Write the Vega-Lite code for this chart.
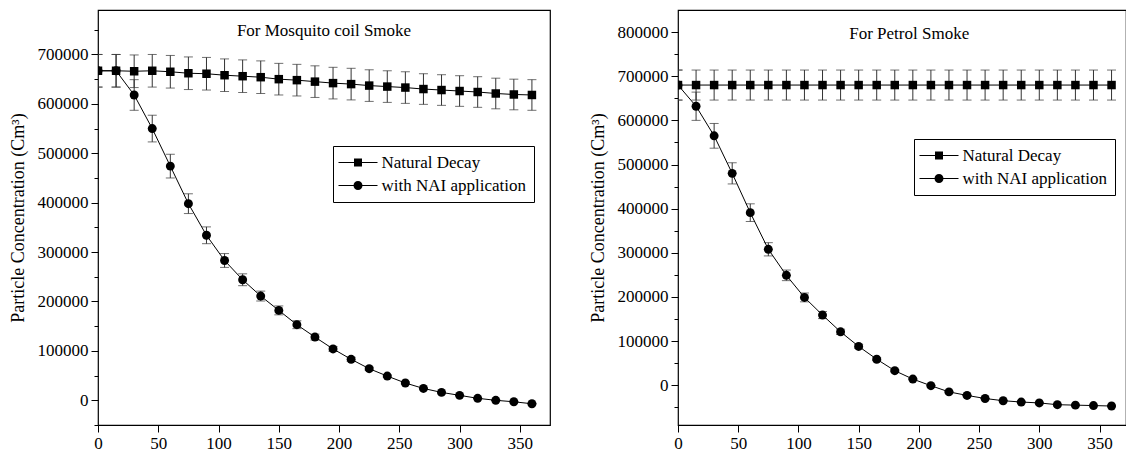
{
  "$schema": "https://vega.github.io/schema/vega-lite/v6.json",
  "background": "white",
  "padding": {"left": 8, "top": 9, "right": 0, "bottom": 0},
  "datasets": {
    "mosq": [
      {"t": 0, "s": "with NAI application", "c": 667000, "lo": 634000, "hi": 700000},
      {"t": 15, "s": "with NAI application", "c": 667000, "lo": 634000, "hi": 700000},
      {"t": 30, "s": "with NAI application", "c": 618000, "lo": 587000, "hi": 649000},
      {"t": 45, "s": "with NAI application", "c": 550000, "lo": 523000, "hi": 577000},
      {"t": 60, "s": "with NAI application", "c": 474000, "lo": 450000, "hi": 498000},
      {"t": 75, "s": "with NAI application", "c": 398000, "lo": 378000, "hi": 418000},
      {"t": 90, "s": "with NAI application", "c": 334000, "lo": 317000, "hi": 351000},
      {"t": 105, "s": "with NAI application", "c": 283000, "lo": 269000, "hi": 297000},
      {"t": 120, "s": "with NAI application", "c": 244000, "lo": 232000, "hi": 256000},
      {"t": 135, "s": "with NAI application", "c": 211000, "lo": 201000, "hi": 221000},
      {"t": 150, "s": "with NAI application", "c": 182000, "lo": 173000, "hi": 191000},
      {"t": 165, "s": "with NAI application", "c": 153000, "lo": 145000, "hi": 161000},
      {"t": 180, "s": "with NAI application", "c": 128000, "lo": 122000, "hi": 134000},
      {"t": 195, "s": "with NAI application", "c": 104000, "lo": 99000, "hi": 109000},
      {"t": 210, "s": "with NAI application", "c": 83000, "lo": 79000, "hi": 87000},
      {"t": 225, "s": "with NAI application", "c": 64000, "lo": 61000, "hi": 67000},
      {"t": 240, "s": "with NAI application", "c": 49000, "lo": 47000, "hi": 51000},
      {"t": 255, "s": "with NAI application", "c": 35000, "lo": 33000, "hi": 37000},
      {"t": 270, "s": "with NAI application", "c": 24000, "lo": 23000, "hi": 25000},
      {"t": 285, "s": "with NAI application", "c": 16000, "lo": 15000, "hi": 17000},
      {"t": 300, "s": "with NAI application", "c": 10000, "lo": 9500, "hi": 10500},
      {"t": 315, "s": "with NAI application", "c": 4000, "lo": 3800, "hi": 4200},
      {"t": 330, "s": "with NAI application", "c": 0, "lo": 0, "hi": 0},
      {"t": 345, "s": "with NAI application", "c": -3000, "lo": -3000, "hi": -3000},
      {"t": 360, "s": "with NAI application", "c": -7000, "lo": -7000, "hi": -7000},
      {"t": 0, "s": "Natural Decay", "c": 667000, "lo": 634000, "hi": 700000},
      {"t": 15, "s": "Natural Decay", "c": 667000, "lo": 634000, "hi": 700000},
      {"t": 30, "s": "Natural Decay", "c": 666000, "lo": 633000, "hi": 699000},
      {"t": 45, "s": "Natural Decay", "c": 667000, "lo": 634000, "hi": 700000},
      {"t": 60, "s": "Natural Decay", "c": 665000, "lo": 632000, "hi": 698000},
      {"t": 75, "s": "Natural Decay", "c": 662000, "lo": 629000, "hi": 695000},
      {"t": 90, "s": "Natural Decay", "c": 661000, "lo": 628000, "hi": 694000},
      {"t": 105, "s": "Natural Decay", "c": 658000, "lo": 625000, "hi": 691000},
      {"t": 120, "s": "Natural Decay", "c": 656000, "lo": 623000, "hi": 689000},
      {"t": 135, "s": "Natural Decay", "c": 654000, "lo": 621000, "hi": 687000},
      {"t": 150, "s": "Natural Decay", "c": 650000, "lo": 618000, "hi": 682000},
      {"t": 165, "s": "Natural Decay", "c": 648000, "lo": 616000, "hi": 680000},
      {"t": 180, "s": "Natural Decay", "c": 645000, "lo": 613000, "hi": 677000},
      {"t": 195, "s": "Natural Decay", "c": 642000, "lo": 610000, "hi": 674000},
      {"t": 210, "s": "Natural Decay", "c": 640000, "lo": 608000, "hi": 672000},
      {"t": 225, "s": "Natural Decay", "c": 637000, "lo": 605000, "hi": 669000},
      {"t": 240, "s": "Natural Decay", "c": 635000, "lo": 603000, "hi": 667000},
      {"t": 255, "s": "Natural Decay", "c": 633000, "lo": 601000, "hi": 665000},
      {"t": 270, "s": "Natural Decay", "c": 630000, "lo": 599000, "hi": 661000},
      {"t": 285, "s": "Natural Decay", "c": 628000, "lo": 597000, "hi": 659000},
      {"t": 300, "s": "Natural Decay", "c": 626000, "lo": 595000, "hi": 657000},
      {"t": 315, "s": "Natural Decay", "c": 624000, "lo": 593000, "hi": 655000},
      {"t": 330, "s": "Natural Decay", "c": 621000, "lo": 590000, "hi": 652000},
      {"t": 345, "s": "Natural Decay", "c": 619000, "lo": 588000, "hi": 650000},
      {"t": 360, "s": "Natural Decay", "c": 618000, "lo": 587000, "hi": 649000}
    ],
    "petrol": [
      {"t": 0, "s": "with NAI application", "c": 680000, "lo": 646000, "hi": 714000},
      {"t": 15, "s": "with NAI application", "c": 632000, "lo": 600000, "hi": 664000},
      {"t": 30, "s": "with NAI application", "c": 565000, "lo": 537000, "hi": 593000},
      {"t": 45, "s": "with NAI application", "c": 480000, "lo": 456000, "hi": 504000},
      {"t": 60, "s": "with NAI application", "c": 391000, "lo": 371000, "hi": 411000},
      {"t": 75, "s": "with NAI application", "c": 308000, "lo": 293000, "hi": 323000},
      {"t": 90, "s": "with NAI application", "c": 249000, "lo": 237000, "hi": 261000},
      {"t": 105, "s": "with NAI application", "c": 199000, "lo": 189000, "hi": 209000},
      {"t": 120, "s": "with NAI application", "c": 159000, "lo": 151000, "hi": 167000},
      {"t": 135, "s": "with NAI application", "c": 121000, "lo": 115000, "hi": 127000},
      {"t": 150, "s": "with NAI application", "c": 88000, "lo": 84000, "hi": 92000},
      {"t": 165, "s": "with NAI application", "c": 59000, "lo": 56000, "hi": 62000},
      {"t": 180, "s": "with NAI application", "c": 33000, "lo": 31000, "hi": 35000},
      {"t": 195, "s": "with NAI application", "c": 14000, "lo": 13000, "hi": 15000},
      {"t": 210, "s": "with NAI application", "c": -1000, "lo": -1000, "hi": -1000},
      {"t": 225, "s": "with NAI application", "c": -15000, "lo": -15000, "hi": -15000},
      {"t": 240, "s": "with NAI application", "c": -23000, "lo": -23000, "hi": -23000},
      {"t": 255, "s": "with NAI application", "c": -30000, "lo": -30000, "hi": -30000},
      {"t": 270, "s": "with NAI application", "c": -35000, "lo": -35000, "hi": -35000},
      {"t": 285, "s": "with NAI application", "c": -38000, "lo": -38000, "hi": -38000},
      {"t": 300, "s": "with NAI application", "c": -40000, "lo": -40000, "hi": -40000},
      {"t": 315, "s": "with NAI application", "c": -44000, "lo": -44000, "hi": -44000},
      {"t": 330, "s": "with NAI application", "c": -45000, "lo": -45000, "hi": -45000},
      {"t": 345, "s": "with NAI application", "c": -46000, "lo": -46000, "hi": -46000},
      {"t": 360, "s": "with NAI application", "c": -47000, "lo": -47000, "hi": -47000},
      {"t": 0, "s": "Natural Decay", "c": 680000, "lo": 646000, "hi": 714000},
      {"t": 15, "s": "Natural Decay", "c": 680000, "lo": 646000, "hi": 714000},
      {"t": 30, "s": "Natural Decay", "c": 680000, "lo": 646000, "hi": 714000},
      {"t": 45, "s": "Natural Decay", "c": 680000, "lo": 646000, "hi": 714000},
      {"t": 60, "s": "Natural Decay", "c": 680000, "lo": 646000, "hi": 714000},
      {"t": 75, "s": "Natural Decay", "c": 680000, "lo": 646000, "hi": 714000},
      {"t": 90, "s": "Natural Decay", "c": 680000, "lo": 646000, "hi": 714000},
      {"t": 105, "s": "Natural Decay", "c": 680000, "lo": 646000, "hi": 714000},
      {"t": 120, "s": "Natural Decay", "c": 680000, "lo": 646000, "hi": 714000},
      {"t": 135, "s": "Natural Decay", "c": 680000, "lo": 646000, "hi": 714000},
      {"t": 150, "s": "Natural Decay", "c": 680000, "lo": 646000, "hi": 714000},
      {"t": 165, "s": "Natural Decay", "c": 680000, "lo": 646000, "hi": 714000},
      {"t": 180, "s": "Natural Decay", "c": 680000, "lo": 646000, "hi": 714000},
      {"t": 195, "s": "Natural Decay", "c": 680000, "lo": 646000, "hi": 714000},
      {"t": 210, "s": "Natural Decay", "c": 680000, "lo": 646000, "hi": 714000},
      {"t": 225, "s": "Natural Decay", "c": 680000, "lo": 646000, "hi": 714000},
      {"t": 240, "s": "Natural Decay", "c": 680000, "lo": 646000, "hi": 714000},
      {"t": 255, "s": "Natural Decay", "c": 680000, "lo": 646000, "hi": 714000},
      {"t": 270, "s": "Natural Decay", "c": 680000, "lo": 646000, "hi": 714000},
      {"t": 285, "s": "Natural Decay", "c": 680000, "lo": 646000, "hi": 714000},
      {"t": 300, "s": "Natural Decay", "c": 680000, "lo": 646000, "hi": 714000},
      {"t": 315, "s": "Natural Decay", "c": 680000, "lo": 646000, "hi": 714000},
      {"t": 330, "s": "Natural Decay", "c": 680000, "lo": 646000, "hi": 714000},
      {"t": 345, "s": "Natural Decay", "c": 680000, "lo": 646000, "hi": 714000},
      {"t": 360, "s": "Natural Decay", "c": 680000, "lo": 646000, "hi": 714000}
    ]
  },
  "spacing": 37,
  "resolve": {
    "scale": {"x": "independent", "y": "independent", "shape": "independent"},
    "legend": {"shape": "independent"}
  },
  "hconcat": [
    {
      "width": 452,
      "height": 415,
      "resolve": {"axis": {"y": "independent"}},
      "layer": [
        {
          "data": {"name": "mosq"},
          "mark": {"type": "rule", "color": "#333", "strokeWidth": 1, "clip": true},
          "encoding": {
            "x": {"field": "t", "type": "quantitative", "scale": {"domain": [0, 375], "nice": false, "zero": false}, "axis": {"title": null, "values": [0, 25, 50, 75, 100, 125, 150, 175, 200, 225, 250, 275, 300, 325, 350, 375], "labelExpr": "datum.value % 50 === 0 ? format(datum.value, 'd') : ''", "labelPadding": 3, "tickSize": {"condition": {"test": "datum.value % 50 === 0", "value": 7}, "value": 4}}},
            "y": {"field": "lo", "type": "quantitative", "scale": {"domain": [-50000, 790000], "nice": false, "zero": false}, "axis": {"orient": "left", "title": "Particle Concentration (Cm³)", "format": "d", "values": [0, 100000, 200000, 300000, 400000, 500000, 600000, 700000], "labelPadding": 3, "titlePadding": 10}},
            "y2": {"field": "hi"},
            "detail": {"field": "s"}
          }
        },
        {
          "data": {"name": "mosq"},
          "mark": {"type": "tick", "orient": "horizontal", "size": 9, "thickness": 1, "color": "#333", "clip": true},
          "encoding": {
            "x": {"field": "t", "type": "quantitative"},
            "y": {"field": "lo", "type": "quantitative", "axis": {"orient": "left", "title": null, "labels": false, "tickSize": 4, "values": [-50000, 50000, 150000, 250000, 350000, 450000, 550000, 650000, 750000]}}
          }
        },
        {
          "data": {"name": "mosq"},
          "mark": {"type": "tick", "orient": "horizontal", "size": 9, "thickness": 1, "color": "#333", "clip": true},
          "encoding": {
            "x": {"field": "t", "type": "quantitative"},
            "y": {"field": "hi", "type": "quantitative", "axis": null}
          }
        },
        {
          "data": {"name": "mosq"},
          "mark": {"type": "line", "color": "black", "strokeWidth": 1, "clip": true},
          "encoding": {
            "x": {"field": "t", "type": "quantitative"},
            "y": {"field": "c", "type": "quantitative", "axis": null},
            "detail": {"field": "s"}
          }
        },
        {
          "data": {"name": "mosq"},
          "transform": [{"filter": {"field": "s", "equal": "with NAI application"}}],
          "mark": {"type": "point", "shape": "circle", "filled": true, "opacity": 1, "color": "black", "size": 80, "clip": true},
          "encoding": {
            "x": {"field": "t", "type": "quantitative"},
            "y": {"field": "c", "type": "quantitative", "axis": null}
          }
        },
        {
          "data": {"name": "mosq"},
          "transform": [{"filter": {"field": "s", "equal": "Natural Decay"}}],
          "mark": {"type": "point", "shape": "square", "filled": true, "opacity": 1, "color": "black", "size": 72, "clip": true},
          "encoding": {
            "x": {"field": "t", "type": "quantitative"},
            "y": {"field": "c", "type": "quantitative", "axis": null}
          }
        },
        {
          "data": {"name": "mosq"},
          "transform": [{"filter": {"field": "t", "lt": 0}}],
          "mark": {"type": "point", "filled": true, "color": "black", "opacity": 1},
          "encoding": {
            "x": {"field": "t", "type": "quantitative"},
            "y": {"field": "c", "type": "quantitative", "axis": null},
            "shape": {
              "field": "s", "type": "nominal",
              "scale": {"domain": ["Natural Decay", "with NAI application"], "range": ["M-3.9,-0.1H3.9V0.1H-3.9ZM-0.8,-0.8H0.8V0.8H-0.8Z", "M-3.9,-0.1H3.9V0.1H-3.9ZM0.9,0A0.9,0.9,0,1,1,-0.9,0A0.9,0.9,0,1,1,0.9,0Z"]},
              "legend": {
                "title": null, "orient": "none", "legendX": 235, "legendY": 136,
                "padding": 8, "rowPadding": 5, "strokeColor": "black", "fillColor": "white",
                "symbolSize": 100, "symbolFillColor": "black", "symbolStrokeColor": "black", "symbolStrokeWidth": 0, "symbolOpacity": 1,
                "symbolOffset": 8.5, "labelOffset": 15,
                "labelFont": "Liberation Serif", "labelFontSize": 17, "labelColor": "black", "labelLimit": 300
              }
            }
          }
        },
        {
          "data": {"values": [{}]},
          "mark": {"type": "text", "font": "Liberation Serif", "fontSize": 17, "color": "black", "baseline": "middle", "align": "center"},
          "encoding": {
            "x": {"datum": 187.5, "type": "quantitative"},
            "y": {"datum": 748000, "type": "quantitative", "axis": null},
            "text": {"value": "For Mosquito coil Smoke"}
          }
        }
      ]
    },
    {
      "width": 448,
      "height": 415,
      "resolve": {"axis": {"y": "independent"}},
      "layer": [
        {
          "data": {"name": "petrol"},
          "mark": {"type": "rule", "color": "#333", "strokeWidth": 1, "clip": true},
          "encoding": {
            "x": {"field": "t", "type": "quantitative", "scale": {"domain": [0, 372], "nice": false, "zero": false}, "axis": {"title": null, "values": [0, 25, 50, 75, 100, 125, 150, 175, 200, 225, 250, 275, 300, 325, 350], "labelExpr": "datum.value % 50 === 0 ? format(datum.value, 'd') : ''", "labelPadding": 3, "tickSize": {"condition": {"test": "datum.value % 50 === 0", "value": 7}, "value": 4}}},
            "y": {"field": "lo", "type": "quantitative", "scale": {"domain": [-90000, 850000], "nice": false, "zero": false}, "axis": {"orient": "left", "title": "Particle Concentration (Cm³)", "format": "d", "values": [0, 100000, 200000, 300000, 400000, 500000, 600000, 700000, 800000], "labelPadding": 3, "titlePadding": 10}},
            "y2": {"field": "hi"},
            "detail": {"field": "s"}
          }
        },
        {
          "data": {"name": "petrol"},
          "mark": {"type": "tick", "orient": "horizontal", "size": 9, "thickness": 1, "color": "#333", "clip": true},
          "encoding": {
            "x": {"field": "t", "type": "quantitative"},
            "y": {"field": "lo", "type": "quantitative", "axis": {"orient": "left", "title": null, "labels": false, "tickSize": 4, "values": [-50000, 50000, 150000, 250000, 350000, 450000, 550000, 650000, 750000]}}
          }
        },
        {
          "data": {"name": "petrol"},
          "mark": {"type": "tick", "orient": "horizontal", "size": 9, "thickness": 1, "color": "#333", "clip": true},
          "encoding": {
            "x": {"field": "t", "type": "quantitative"},
            "y": {"field": "hi", "type": "quantitative", "axis": null}
          }
        },
        {
          "data": {"name": "petrol"},
          "mark": {"type": "line", "color": "black", "strokeWidth": 1, "clip": true},
          "encoding": {
            "x": {"field": "t", "type": "quantitative"},
            "y": {"field": "c", "type": "quantitative", "axis": null},
            "detail": {"field": "s"}
          }
        },
        {
          "data": {"name": "petrol"},
          "transform": [{"filter": {"field": "s", "equal": "with NAI application"}}],
          "mark": {"type": "point", "shape": "circle", "filled": true, "opacity": 1, "color": "black", "size": 80, "clip": true},
          "encoding": {
            "x": {"field": "t", "type": "quantitative"},
            "y": {"field": "c", "type": "quantitative", "axis": null}
          }
        },
        {
          "data": {"name": "petrol"},
          "transform": [{"filter": {"field": "s", "equal": "Natural Decay"}}],
          "mark": {"type": "point", "shape": "square", "filled": true, "opacity": 1, "color": "black", "size": 72, "clip": true},
          "encoding": {
            "x": {"field": "t", "type": "quantitative"},
            "y": {"field": "c", "type": "quantitative", "axis": null}
          }
        },
        {
          "data": {"name": "petrol"},
          "transform": [{"filter": {"field": "t", "lt": 0}}],
          "mark": {"type": "point", "filled": true, "color": "black", "opacity": 1},
          "encoding": {
            "x": {"field": "t", "type": "quantitative"},
            "y": {"field": "c", "type": "quantitative", "axis": null},
            "shape": {
              "field": "s", "type": "nominal",
              "scale": {"domain": ["Natural Decay", "with NAI application"], "range": ["M-3.9,-0.1H3.9V0.1H-3.9ZM-0.8,-0.8H0.8V0.8H-0.8Z", "M-3.9,-0.1H3.9V0.1H-3.9ZM0.9,0A0.9,0.9,0,1,1,-0.9,0A0.9,0.9,0,1,1,0.9,0Z"]},
              "legend": {
                "title": null, "orient": "none", "legendX": 236, "legendY": 129,
                "padding": 8, "rowPadding": 5, "strokeColor": "black", "fillColor": "white",
                "symbolSize": 100, "symbolFillColor": "black", "symbolStrokeColor": "black", "symbolStrokeWidth": 0, "symbolOpacity": 1,
                "symbolOffset": 8.5, "labelOffset": 15,
                "labelFont": "Liberation Serif", "labelFontSize": 17, "labelColor": "black", "labelLimit": 300
              }
            }
          }
        },
        {
          "data": {"values": [{}]},
          "mark": {"type": "text", "font": "Liberation Serif", "fontSize": 17, "color": "black", "baseline": "middle", "align": "center"},
          "encoding": {
            "x": {"datum": 192, "type": "quantitative"},
            "y": {"datum": 795000, "type": "quantitative", "axis": null},
            "text": {"value": "For Petrol Smoke"}
          }
        }
      ]
    }
  ],
  "config": {
    "font": "Liberation Serif",
    "view": {"stroke": "black", "strokeWidth": 1.2},
    "axis": {
      "grid": false, "domain": false, "tickColor": "black", "tickWidth": 1, "tickSize": 7,
      "labelColor": "black", "labelFont": "Liberation Serif", "labelFontSize": 17,
      "labelOverlap": false, "labelFlush": false, "labelBound": false,
      "titleFont": "Liberation Serif", "titleFontSize": 18, "titleFontWeight": "normal", "titleColor": "black"
    }
  }
}
